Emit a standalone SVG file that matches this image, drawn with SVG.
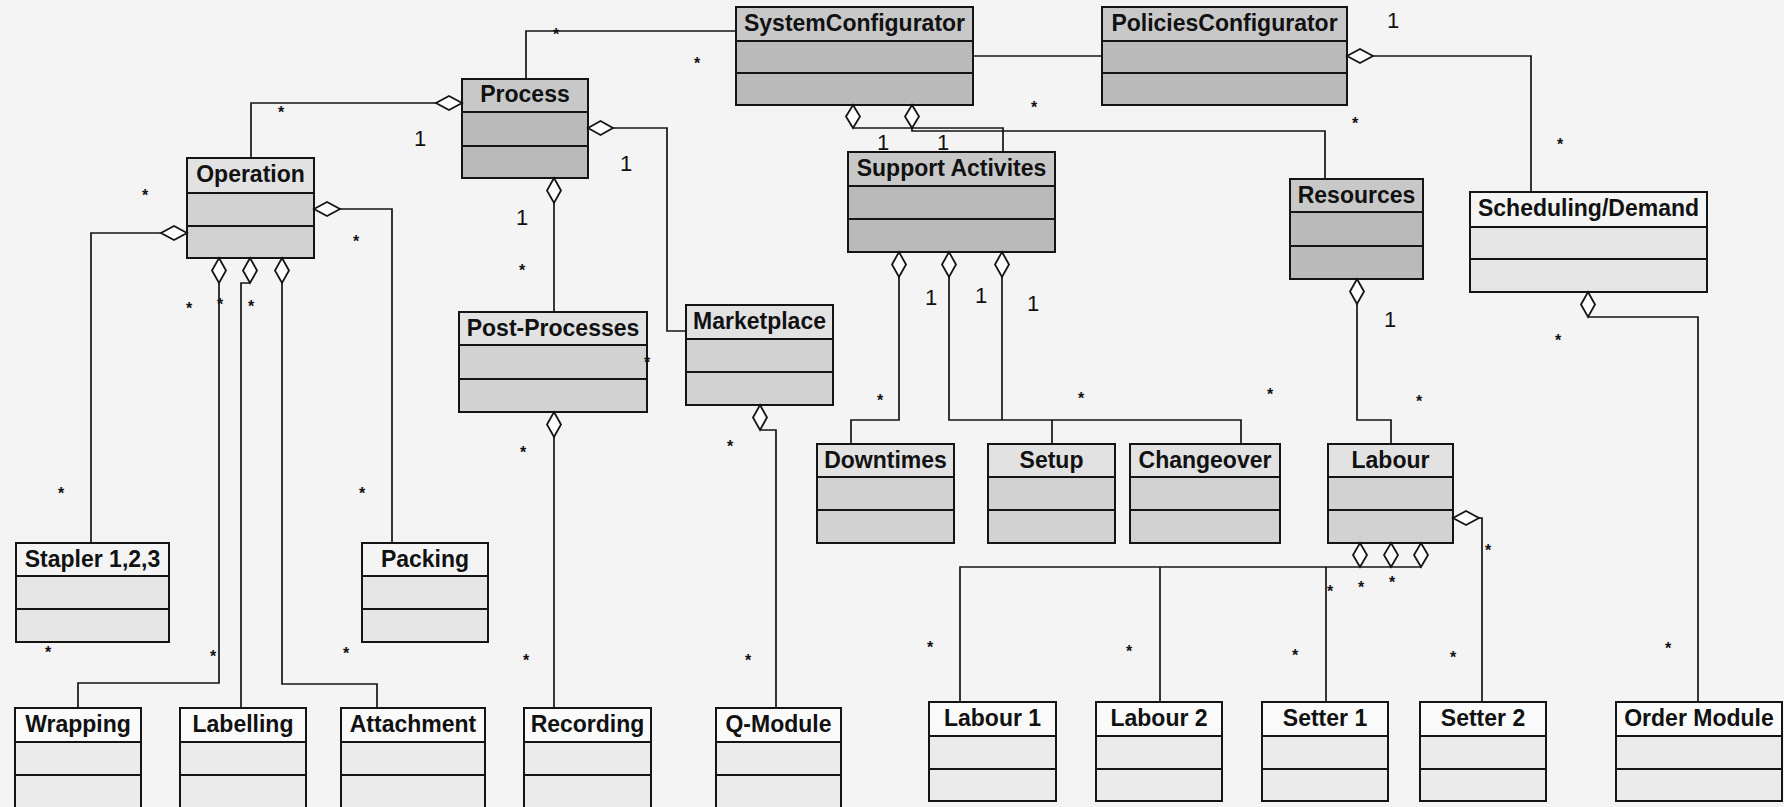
<svg xmlns="http://www.w3.org/2000/svg" width="1784" height="807" viewBox="0 0 1784 807">
  <style>
    .frame { stroke: #141414; stroke-width: 2; }
    .dk .body { fill: #bababa; } .dk .head { fill: #c8c8c8; }
    .md .body { fill: #d2d2d2; } .md .head { fill: #e2e2e2; }
    .lt .body { fill: #e6e6e6; } .lt .head { fill: #f4f4f4; }
    .wh .body { fill: #ebebeb; } .wh .head { fill: #fafafa; }
    .title { font-family: "Liberation Sans", Arial, sans-serif; font-weight: bold; font-size: 23px; fill: #111; text-anchor: middle; }
    .wire { fill: none; stroke: #151515; stroke-width: 1.7; }
    .dia { fill: #ffffff; stroke: #151515; stroke-width: 1.8; }
    .star { font-family: "Liberation Sans", Arial, sans-serif; font-weight: bold; font-size: 16px; fill: #111; text-anchor: middle; }
    .one { font-family: "Liberation Sans", Arial, sans-serif; font-size: 22px; fill: #111; text-anchor: middle; }
  </style>

  <rect width="1784" height="807" fill="#f4f4f4"/>

  <!-- class boxes: header, attributes, operations -->
  <g id="nodes">
    <g id="n-systemconfigurator" class="dk">
      <rect class="body frame" x="736" y="7" width="237" height="98"/>
      <rect class="head frame" x="736" y="7" width="237" height="34"/>
      <line class="frame" x1="736" y1="73" x2="973" y2="73"/>
      <text class="title" x="854.5" y="31">SystemConfigurator</text>
    </g>
    <g id="n-policiesconfigurator" class="dk">
      <rect class="body frame" x="1102" y="7" width="245" height="98"/>
      <rect class="head frame" x="1102" y="7" width="245" height="34"/>
      <line class="frame" x1="1102" y1="73" x2="1347" y2="73"/>
      <text class="title" x="1224.5" y="31">PoliciesConfigurator</text>
    </g>
    <g id="n-process" class="dk">
      <rect class="body frame" x="462" y="79" width="126" height="99"/>
      <rect class="head frame" x="462" y="79" width="126" height="33"/>
      <line class="frame" x1="462" y1="146" x2="588" y2="146"/>
      <text class="title" x="525" y="102">Process</text>
    </g>
    <g id="n-operation" class="md">
      <rect class="body frame" x="187" y="158" width="127" height="100"/>
      <rect class="head frame" x="187" y="158" width="127" height="35"/>
      <line class="frame" x1="187" y1="226" x2="314" y2="226"/>
      <text class="title" x="250.5" y="182">Operation</text>
    </g>
    <g id="n-supportactivites" class="dk">
      <rect class="body frame" x="848" y="152" width="207" height="100"/>
      <rect class="head frame" x="848" y="152" width="207" height="34"/>
      <line class="frame" x1="848" y1="219" x2="1055" y2="219"/>
      <text class="title" x="951.5" y="176">Support Activites</text>
    </g>
    <g id="n-resources" class="dk">
      <rect class="body frame" x="1290" y="179" width="133" height="100"/>
      <rect class="head frame" x="1290" y="179" width="133" height="33"/>
      <line class="frame" x1="1290" y1="246" x2="1423" y2="246"/>
      <text class="title" x="1356.5" y="203">Resources</text>
    </g>
    <g id="n-schedulingdemand" class="lt">
      <rect class="body frame" x="1470" y="192" width="237" height="100"/>
      <rect class="head frame" x="1470" y="192" width="237" height="35"/>
      <line class="frame" x1="1470" y1="259" x2="1707" y2="259"/>
      <text class="title" x="1588.5" y="216">Scheduling/Demand</text>
    </g>
    <g id="n-postprocesses" class="md">
      <rect class="body frame" x="459" y="312" width="188" height="100"/>
      <rect class="head frame" x="459" y="312" width="188" height="33"/>
      <line class="frame" x1="459" y1="379" x2="647" y2="379"/>
      <text class="title" x="553" y="336">Post-Processes</text>
    </g>
    <g id="n-marketplace" class="md">
      <rect class="body frame" x="686" y="305" width="147" height="100"/>
      <rect class="head frame" x="686" y="305" width="147" height="34"/>
      <line class="frame" x1="686" y1="372" x2="833" y2="372"/>
      <text class="title" x="759.5" y="329">Marketplace</text>
    </g>
    <g id="n-downtimes" class="md">
      <rect class="body frame" x="817" y="444" width="137" height="99"/>
      <rect class="head frame" x="817" y="444" width="137" height="33"/>
      <line class="frame" x1="817" y1="510" x2="954" y2="510"/>
      <text class="title" x="885.5" y="468">Downtimes</text>
    </g>
    <g id="n-setup" class="md">
      <rect class="body frame" x="988" y="444" width="127" height="99"/>
      <rect class="head frame" x="988" y="444" width="127" height="33"/>
      <line class="frame" x1="988" y1="510" x2="1115" y2="510"/>
      <text class="title" x="1051.5" y="468">Setup</text>
    </g>
    <g id="n-changeover" class="md">
      <rect class="body frame" x="1130" y="444" width="150" height="99"/>
      <rect class="head frame" x="1130" y="444" width="150" height="33"/>
      <line class="frame" x1="1130" y1="510" x2="1280" y2="510"/>
      <text class="title" x="1205" y="468">Changeover</text>
    </g>
    <g id="n-labour" class="md">
      <rect class="body frame" x="1328" y="444" width="125" height="99"/>
      <rect class="head frame" x="1328" y="444" width="125" height="33"/>
      <line class="frame" x1="1328" y1="510" x2="1453" y2="510"/>
      <text class="title" x="1390.5" y="468">Labour</text>
    </g>
    <g id="n-stapler" class="lt">
      <rect class="body frame" x="16" y="543" width="153" height="99"/>
      <rect class="head frame" x="16" y="543" width="153" height="33"/>
      <line class="frame" x1="16" y1="609" x2="169" y2="609"/>
      <text class="title" x="92.5" y="567">Stapler 1,2,3</text>
    </g>
    <g id="n-packing" class="lt">
      <rect class="body frame" x="362" y="543" width="126" height="99"/>
      <rect class="head frame" x="362" y="543" width="126" height="33"/>
      <line class="frame" x1="362" y1="609" x2="488" y2="609"/>
      <text class="title" x="425" y="567">Packing</text>
    </g>
    <g id="n-wrapping" class="wh">
      <rect class="body frame" x="15" y="708" width="126" height="100"/>
      <rect class="head frame" x="15" y="708" width="126" height="34"/>
      <line class="frame" x1="15" y1="775" x2="141" y2="775"/>
      <text class="title" x="78" y="732">Wrapping</text>
    </g>
    <g id="n-labelling" class="wh">
      <rect class="body frame" x="180" y="708" width="126" height="100"/>
      <rect class="head frame" x="180" y="708" width="126" height="34"/>
      <line class="frame" x1="180" y1="775" x2="306" y2="775"/>
      <text class="title" x="243" y="732">Labelling</text>
    </g>
    <g id="n-attachment" class="wh">
      <rect class="body frame" x="341" y="708" width="144" height="100"/>
      <rect class="head frame" x="341" y="708" width="144" height="34"/>
      <line class="frame" x1="341" y1="775" x2="485" y2="775"/>
      <text class="title" x="413" y="732">Attachment</text>
    </g>
    <g id="n-recording" class="wh">
      <rect class="body frame" x="524" y="708" width="127" height="100"/>
      <rect class="head frame" x="524" y="708" width="127" height="34"/>
      <line class="frame" x1="524" y1="775" x2="651" y2="775"/>
      <text class="title" x="587.5" y="732">Recording</text>
    </g>
    <g id="n-qmodule" class="wh">
      <rect class="body frame" x="716" y="708" width="125" height="100"/>
      <rect class="head frame" x="716" y="708" width="125" height="34"/>
      <line class="frame" x1="716" y1="775" x2="841" y2="775"/>
      <text class="title" x="778.5" y="732">Q-Module</text>
    </g>
    <g id="n-labour1" class="wh">
      <rect class="body frame" x="929" y="702" width="127" height="99"/>
      <rect class="head frame" x="929" y="702" width="127" height="34"/>
      <line class="frame" x1="929" y1="769" x2="1056" y2="769"/>
      <text class="title" x="992.5" y="726">Labour 1</text>
    </g>
    <g id="n-labour2" class="wh">
      <rect class="body frame" x="1096" y="702" width="126" height="99"/>
      <rect class="head frame" x="1096" y="702" width="126" height="34"/>
      <line class="frame" x1="1096" y1="769" x2="1222" y2="769"/>
      <text class="title" x="1159" y="726">Labour 2</text>
    </g>
    <g id="n-setter1" class="wh">
      <rect class="body frame" x="1262" y="702" width="126" height="99"/>
      <rect class="head frame" x="1262" y="702" width="126" height="34"/>
      <line class="frame" x1="1262" y1="769" x2="1388" y2="769"/>
      <text class="title" x="1325" y="726">Setter 1</text>
    </g>
    <g id="n-setter2" class="wh">
      <rect class="body frame" x="1420" y="702" width="126" height="99"/>
      <rect class="head frame" x="1420" y="702" width="126" height="34"/>
      <line class="frame" x1="1420" y1="769" x2="1546" y2="769"/>
      <text class="title" x="1483" y="726">Setter 2</text>
    </g>
    <g id="n-ordermodule" class="wh">
      <rect class="body frame" x="1616" y="702" width="166" height="99"/>
      <rect class="head frame" x="1616" y="702" width="166" height="34"/>
      <line class="frame" x1="1616" y1="769" x2="1782" y2="769"/>
      <text class="title" x="1699" y="726">Order Module</text>
    </g>
  </g>

  <!-- associations and aggregations (hollow diamond on the whole side) -->
  <g id="connectors">
    <!-- plain associations -->
    <polyline class="wire" points="526,79 526,31 736,31"/>
    <line class="wire" x1="973" y1="56" x2="1102" y2="56"/>

    <!-- Process -->
    <polyline class="wire" points="436,103 251,103 251,158"/>
    <polygon class="dia" points="462,103 449,96 436,103 449,110"/>
    <line class="wire" x1="554" y1="203" x2="554" y2="312"/>
    <polygon class="dia" points="554,178 561,190.5 554,203 547,190.5"/>
    <polyline class="wire" points="613,128 667,128 667,331 686,331"/>
    <polygon class="dia" points="588,128 600.5,121 613,128 600.5,135"/>

    <!-- Operation -->
    <polyline class="wire" points="161,233 91,233 91,543"/>
    <polygon class="dia" points="187,233 174,226 161,233 174,240"/>
    <polyline class="wire" points="340,209 392,209 392,543"/>
    <polygon class="dia" points="314,209 327,202 340,209 327,216"/>
    <polyline class="wire" points="219,283 219,683 78,683 78,708"/>
    <polygon class="dia" points="219,258 226,270.5 219,283 212,270.5"/>
    <polyline class="wire" points="250,283 241,283 241,708"/>
    <polygon class="dia" points="250,258 257,270.5 250,283 243,270.5"/>
    <polyline class="wire" points="282,283 282,684 377,684 377,708"/>
    <polygon class="dia" points="282,258 289,270.5 282,283 275,270.5"/>

    <!-- Post-Processes / Marketplace -->
    <line class="wire" x1="554" y1="437" x2="554" y2="708"/>
    <polygon class="dia" points="554,412 561,424.5 554,437 547,424.5"/>
    <polyline class="wire" points="760,430 776,430 776,708"/>
    <polygon class="dia" points="760,405 767,417.5 760,430 753,417.5"/>

    <!-- SystemConfigurator -->
    <polyline class="wire" points="853,128 1003,128 1003,152"/>
    <polygon class="dia" points="853,105 860,116.5 853,128 846,116.5"/>
    <polyline class="wire" points="912,128 912,131 1325,131 1325,179"/>
    <polygon class="dia" points="912,105 919,116.5 912,128 905,116.5"/>

    <!-- PoliciesConfigurator -->
    <polyline class="wire" points="1373,56 1531,56 1531,192"/>
    <polygon class="dia" points="1347,56 1360,49 1373,56 1360,63"/>

    <!-- Support Activites -->
    <polyline class="wire" points="899,277 899,420 851,420 851,444"/>
    <polygon class="dia" points="899,252 906,264.5 899,277 892,264.5"/>
    <polyline class="wire" points="949,277 949,420 1241,420 1241,444"/>
    <line class="wire" x1="1002" y1="277" x2="1002" y2="420"/>
    <line class="wire" x1="1052" y1="420" x2="1052" y2="444"/>
    <polygon class="dia" points="949,252 956,264.5 949,277 942,264.5"/>
    <polygon class="dia" points="1002,252 1009,264.5 1002,277 995,264.5"/>

    <!-- Resources -->
    <polyline class="wire" points="1357,304 1357,420 1391,420 1391,444"/>
    <polygon class="dia" points="1357,279 1364,291.5 1357,304 1350,291.5"/>

    <!-- Scheduling/Demand -->
    <polyline class="wire" points="1588,317 1698,317 1698,702"/>
    <polygon class="dia" points="1588,292 1595,304.5 1588,317 1581,304.5"/>

    <!-- Labour -->
    <polyline class="wire" points="960,702 960,567 1421,567"/>
    <line class="wire" x1="1160" y1="567" x2="1160" y2="702"/>
    <line class="wire" x1="1326" y1="567" x2="1326" y2="702"/>
    <polygon class="dia" points="1360,543 1367,555 1360,567 1353,555"/>
    <polygon class="dia" points="1391,543 1398,555 1391,567 1384,555"/>
    <polygon class="dia" points="1421,543 1428,555 1421,567 1414,555"/>
    <polyline class="wire" points="1479,518 1482,518 1482,702"/>
    <polygon class="dia" points="1453,518 1466,511 1479,518 1466,525"/>

    <!-- multiplicities -->
    <g id="mult-one">
      <text class="one" x="420" y="146">1</text>
      <text class="one" x="626" y="171">1</text>
      <text class="one" x="522" y="225">1</text>
      <text class="one" x="931" y="305">1</text>
      <text class="one" x="981" y="303">1</text>
      <text class="one" x="1033" y="311">1</text>
      <text class="one" x="1390" y="327">1</text>
      <text class="one" x="1393" y="28">1</text>
      <text class="one" x="883" y="150">1</text>
      <text class="one" x="943" y="150">1</text>
    </g>
    <g id="mult-many">
      <text class="star" x="556" y="40">*</text>
      <text class="star" x="697" y="69">*</text>
      <text class="star" x="281" y="118">*</text>
      <text class="star" x="145" y="201">*</text>
      <text class="star" x="356" y="247">*</text>
      <text class="star" x="189" y="314">*</text>
      <text class="star" x="220" y="310">*</text>
      <text class="star" x="251" y="312">*</text>
      <text class="star" x="61" y="499">*</text>
      <text class="star" x="362" y="499">*</text>
      <text class="star" x="522" y="276">*</text>
      <text class="star" x="523" y="458">*</text>
      <text class="star" x="647" y="368">*</text>
      <text class="star" x="730" y="452">*</text>
      <text class="star" x="880" y="406">*</text>
      <text class="star" x="1081" y="404">*</text>
      <text class="star" x="1270" y="400">*</text>
      <text class="star" x="1419" y="407">*</text>
      <text class="star" x="1034" y="113">*</text>
      <text class="star" x="1355" y="129">*</text>
      <text class="star" x="1560" y="150">*</text>
      <text class="star" x="1558" y="346">*</text>
      <text class="star" x="1488" y="556">*</text>
      <text class="star" x="1330" y="597">*</text>
      <text class="star" x="1361" y="593">*</text>
      <text class="star" x="1392" y="588">*</text>
      <text class="star" x="48" y="658">*</text>
      <text class="star" x="213" y="662">*</text>
      <text class="star" x="346" y="659">*</text>
      <text class="star" x="526" y="666">*</text>
      <text class="star" x="748" y="666">*</text>
      <text class="star" x="930" y="653">*</text>
      <text class="star" x="1129" y="657">*</text>
      <text class="star" x="1295" y="661">*</text>
      <text class="star" x="1453" y="663">*</text>
      <text class="star" x="1668" y="654">*</text>
    </g>
  </g>
</svg>
